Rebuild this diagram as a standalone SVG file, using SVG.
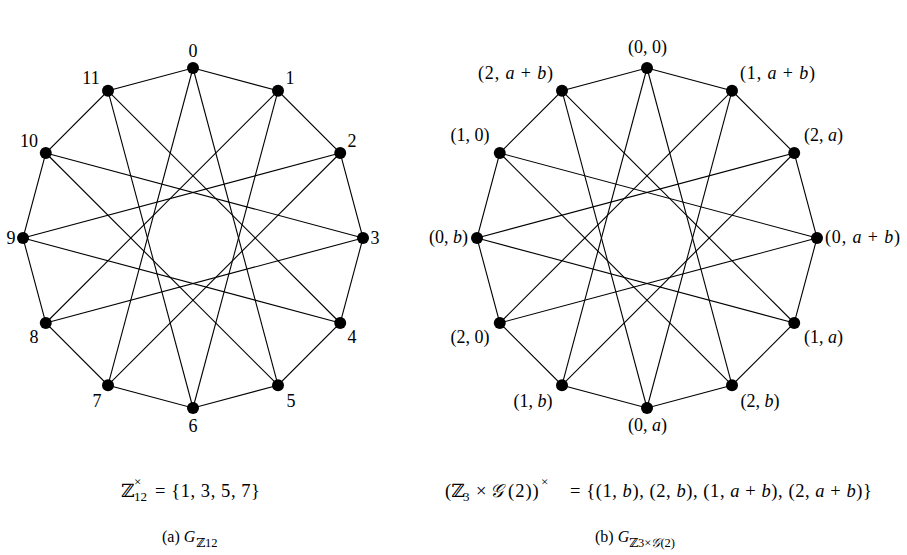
<svg xmlns="http://www.w3.org/2000/svg" xmlns:xlink="http://www.w3.org/1999/xlink" width="907" height="555" viewBox="0 0 907 555">
<style>
text{font-family:"Liberation Serif","DejaVu Serif",serif;fill:#000}
.lb{font-size:18px;text-anchor:middle}
.i{font-style:italic}
.f{font-size:18.5px}
.s{font-size:13px}
.c{font-size:16px}
.cs{font-size:12.5px}
.e{stroke:#000;stroke-width:1.1;fill:none}
circle{fill:#000}
</style>
<defs>
<g id="edgeset" class="e">
<polygon points="0,-170 85,-147.22 147.22,-85 170,0 147.22,85 85,147.22 0,170 -85,147.22 -147.22,85 -170,0 -147.22,-85 -85,-147.22"/>
<line x1="0" y1="-170" x2="85" y2="147.22"/>
<line x1="85" y1="-147.22" x2="0" y2="170"/>
<line x1="147.22" y1="-85" x2="-85" y2="147.22"/>
<line x1="170" y1="0" x2="-147.22" y2="85"/>
<line x1="147.22" y1="85" x2="-170" y2="0"/>
<line x1="85" y1="147.22" x2="-147.22" y2="-85"/>
<line x1="0" y1="170" x2="-85" y2="-147.22"/>
<line x1="-85" y1="147.22" x2="0" y2="-170"/>
<line x1="-147.22" y1="85" x2="85" y2="-147.22"/>
<line x1="-170" y1="0" x2="147.22" y2="-85"/>
<line x1="-147.22" y1="-85" x2="170" y2="0"/>
<line x1="-85" y1="-147.22" x2="147.22" y2="85"/>
</g>
</defs>
<g id="connectors">
<use href="#edgeset" xlink:href="#edgeset" transform="translate(193,238)"/>
<use href="#edgeset" xlink:href="#edgeset" transform="translate(647,238)"/>
</g>
<g id="graph-a">
<g id="a0"><circle cx="193" cy="68" r="6"/><text class="lb" x="193" y="57">0</text></g>
<g id="a1"><circle cx="278" cy="90.78" r="6"/><text class="lb" x="290" y="84">1</text></g>
<g id="a2"><circle cx="340.22" cy="153" r="6"/><text class="lb" x="352" y="147">2</text></g>
<g id="a3"><circle cx="363" cy="238" r="6"/><text class="lb" x="375" y="244">3</text></g>
<g id="a4"><circle cx="340.22" cy="323" r="6"/><text class="lb" x="352" y="343">4</text></g>
<g id="a5"><circle cx="278" cy="385.22" r="6"/><text class="lb" x="291" y="407">5</text></g>
<g id="a6"><circle cx="193" cy="408" r="6"/><text class="lb" x="193" y="432">6</text></g>
<g id="a7"><circle cx="108" cy="385.22" r="6"/><text class="lb" x="97" y="407">7</text></g>
<g id="a8"><circle cx="45.78" cy="323" r="6"/><text class="lb" x="34" y="343">8</text></g>
<g id="a9"><circle cx="23" cy="238" r="6"/><text class="lb" x="11" y="244">9</text></g>
<g id="a10"><circle cx="45.78" cy="153" r="6"/><text class="lb" x="29" y="147">10</text></g>
<g id="a11"><circle cx="108" cy="90.78" r="6"/><text class="lb" x="91" y="84">11</text></g>
</g>
<g id="graph-b">
<g id="b0"><circle cx="647" cy="68" r="6"/><text class="lb" x="647.5" y="53">(0, 0)</text></g>
<g id="b1"><circle cx="732" cy="90.78" r="6"/><text class="lb" x="777.5" y="79" textLength="75" lengthAdjust="spacing">(1, <tspan class="i">a</tspan> + <tspan class="i">b</tspan>)</text></g>
<g id="b2"><circle cx="794.22" cy="153" r="6"/><text class="lb" x="823.5" y="141">(2, <tspan class="i">a</tspan>)</text></g>
<g id="b3"><circle cx="817" cy="238" r="6"/><text class="lb" x="825" y="243" style="text-anchor:start" textLength="75" lengthAdjust="spacing">(0, <tspan class="i">a</tspan> + <tspan class="i">b</tspan>)</text></g>
<g id="b4"><circle cx="794.22" cy="323" r="6"/><text class="lb" x="823.5" y="343">(1, <tspan class="i">a</tspan>)</text></g>
<g id="b5"><circle cx="732" cy="385.22" r="6"/><text class="lb" x="760" y="407">(2, <tspan class="i">b</tspan>)</text></g>
<g id="b6"><circle cx="647" cy="408" r="6"/><text class="lb" x="647.5" y="431">(0, <tspan class="i">a</tspan>)</text></g>
<g id="b7"><circle cx="562" cy="385.22" r="6"/><text class="lb" x="533" y="407">(1, <tspan class="i">b</tspan>)</text></g>
<g id="b8"><circle cx="499.78" cy="323" r="6"/><text class="lb" x="470" y="343">(2, 0)</text></g>
<g id="b9"><circle cx="477" cy="238" r="6"/><text class="lb" x="468" y="243" style="text-anchor:end">(0, <tspan class="i">b</tspan>)</text></g>
<g id="b10"><circle cx="499.78" cy="153" r="6"/><text class="lb" x="470" y="141">(1, 0)</text></g>
<g id="b11"><circle cx="562" cy="90.78" r="6"/><text class="lb" x="515.5" y="79" textLength="75" lengthAdjust="spacing">(2, <tspan class="i">a</tspan> + <tspan class="i">b</tspan>)</text></g>
</g>
<g id="formula-a">
<text class="f" x="121" y="497">ℤ</text>
<text class="s" x="134" y="486">×</text>
<text class="s" x="134" y="501">12</text>
<text class="f" x="155" y="497" textLength="105" lengthAdjust="spacing">= {1, 3, 5, 7}</text>
</g>
<g id="formula-b">
<text class="f" x="445" y="497">(ℤ</text>
<text class="s" x="463" y="501">3</text>
<text class="f" x="476" y="497">×</text>
<text class="f i" x="490" y="497">𝒢</text>
<text class="f" x="508" y="497" style="letter-spacing:1px">(2))</text>
<text class="s" x="541" y="486">×</text>
<text class="f" x="570" y="497" textLength="302" lengthAdjust="spacing">= {(1, <tspan class="i">b</tspan>), (2, <tspan class="i">b</tspan>), (1, <tspan class="i">a</tspan> + <tspan class="i">b</tspan>), (2, <tspan class="i">a</tspan> + <tspan class="i">b</tspan>)}</text>
</g>
<g id="caption-a">
<text class="c" x="162" y="542">(a) <tspan class="i">G</tspan></text>
<text class="cs" x="196" y="547">ℤ12</text>
</g>
<g id="caption-b">
<text class="c" x="595" y="542">(b) <tspan class="i">G</tspan></text>
<text class="cs" x="629" y="547">ℤ3×<tspan class="i">𝒢</tspan>(2)</text>
</g>
</svg>
